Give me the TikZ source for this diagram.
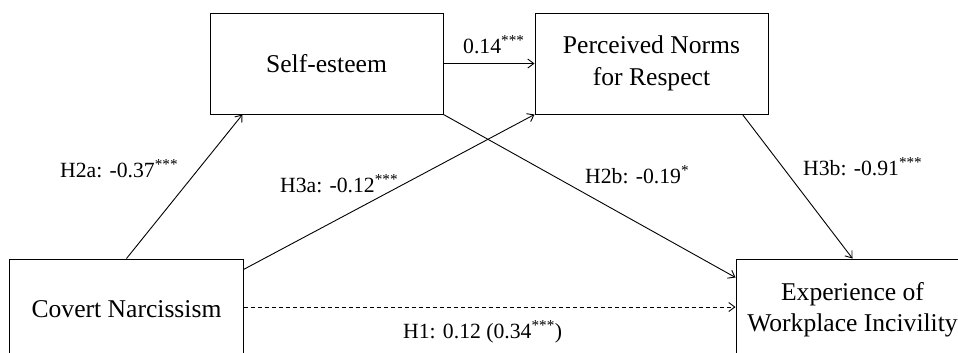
\documentclass[tikz,border=0pt]{standalone}
\usepackage{fontspec}
\setmainfont{Liberation Serif}
\usetikzlibrary{arrows.meta}
\begin{document}
\begin{tikzpicture}[x=1bp,y=-1bp,
  var/.style={draw, line width=1bp, minimum width=233bp, minimum height=101bp,
    inner sep=0pt, align=center, font=\fontsize{25.6bp}{31.5bp}\selectfont},
  lab/.style={inner sep=0pt, anchor=base west, font=\fontsize{21.7bp}{26bp}\selectfont},
  link/.style={line width=0.9bp, -{Straight Barb[length=6bp,width=9bp]}},
  direct/.style={link, dash pattern=on 4bp off 3bp}]
\clip (0,0) rectangle (958,352);

% variables
\node[var] (se) at (326.5,63.5) {Self-esteem};
\node[var] (pn) at (651.5,63.5) {Perceived Norms\\for Respect};
\node[var] (cn) at (126.5,309.5) {Covert Narcissism};
\node[var] (ew) at (852.5,309.5) {Experience of\\Workplace Incivility};

% paths
\draw[link] (cn.north) -- ([xshift=33bp]se.south west);
\draw[link] ([yshift=-11bp]cn.north east) -- (pn.south west);
\draw[link] (se.east) -- (pn.west);
\draw[link] (se.south east) -- ([yshift=-19bp]ew.north west);
\draw[link] ([xshift=-26bp]pn.south east) -- (ew.north);
\draw[direct] ([yshift=2.5bp]cn.east) -- ([yshift=2.5bp]ew.west);

% coefficients
\node[lab] (l1) at (463,53) {0.14\textsuperscript{***}};
\node[lab] (l2) at (60,177) {H2a: -0.37\textsuperscript{***}};
\node[lab] (l3) at (280,192) {H3a: -0.12\textsuperscript{***}};
\node[lab] (l4) at (585,183) {H2b: -0.19\textsuperscript{*}};
\node[lab] (l5) at (803,175) {H3b: -0.91\textsuperscript{***}};
\node[lab] (l6) at (403,338) {H1: 0.12 (0.34\textsuperscript{***})};
\end{tikzpicture}
\end{document}
